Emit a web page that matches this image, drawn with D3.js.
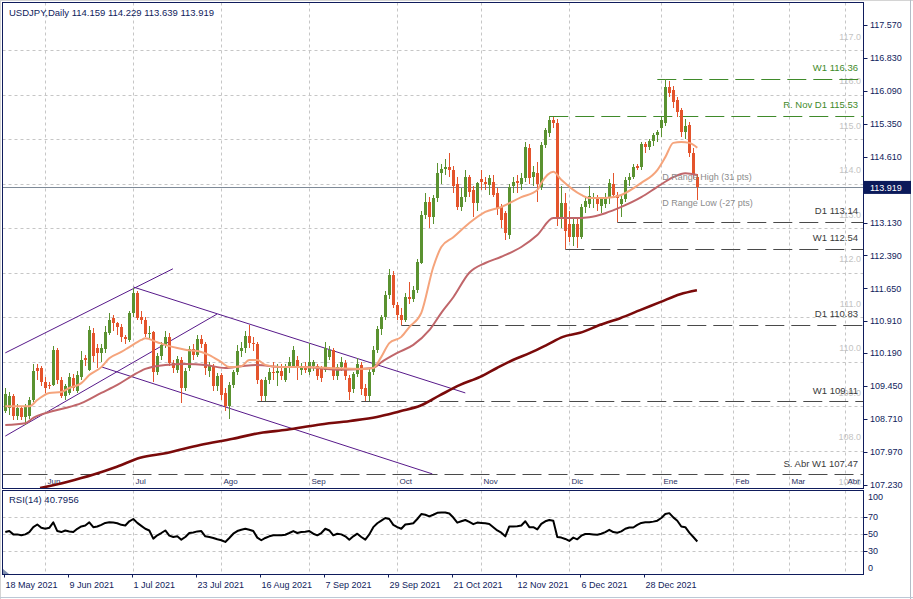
<!DOCTYPE html>
<html><head><meta charset="utf-8">
<script src="https://cdn.jsdelivr.net/npm/d3@7"></script>
<style>html,body{margin:0;padding:0;background:#fff;}svg{display:block;}</style>
</head><body>
<svg id="c" width="913" height="599"></svg>
<script>
const titleText = "USDJPY,Daily  114.159 114.229 113.639 113.919";
const rsiTitle = "RSI(14) 40.7956";
const lastPrice = 113.919;

const opens = [108.90,108.95,109.22,108.78,108.95,108.75,108.78,109.15,109.85,109.85,109.55,109.48,109.48,110.27,109.58,109.22,109.30,109.63,109.35,109.65,110.08,109.82,110.65,110.30,110.19,110.28,110.64,110.98,110.87,110.79,110.56,110.50,111.09,111.54,111.00,110.94,110.62,110.66,109.78,110.12,110.38,110.56,109.97,109.82,110.05,109.40,109.85,110.28,110.15,110.52,110.40,109.80,109.90,109.45,109.70,109.30,109.00,109.48,109.76,110.25,110.30,110.58,110.42,110.40,109.58,109.24,109.60,109.78,109.75,109.80,109.60,109.89,109.90,110.05,109.82,109.90,109.78,109.90,109.90,109.85,109.82,110.11,110.27,109.67,109.89,109.97,109.63,109.38,109.72,109.93,109.40,109.22,109.78,110.27,110.73,111.00,111.49,111.95,111.28,111.05,110.95,111.45,111.42,111.62,112.22,113.30,113.60,113.25,113.68,114.25,114.33,114.38,114.30,113.99,113.47,113.71,114.16,113.86,113.56,114.10,114.05,113.97,114.05,113.80,113.49,113.34,112.85,113.94,114.07,114.00,114.13,114.80,114.16,114.25,113.93,114.87,115.14,115.44,115.37,113.25,113.56,113.10,112.80,113.10,112.80,113.48,113.55,113.65,113.70,113.50,113.55,113.70,114.00,113.75,113.55,113.65,114.08,114.15,114.40,114.38,114.90,114.82,114.97,115.10,115.25,115.37,116.18,116.10,115.88,115.66,115.17,115.32,114.69,114.159];
const highs = [109.40,109.32,109.28,109.05,109.00,109.05,109.20,109.95,109.95,109.90,109.65,109.55,110.35,110.32,109.65,109.50,109.75,109.72,109.80,110.25,110.15,110.80,110.75,110.40,110.40,110.80,111.10,111.05,110.90,110.85,110.60,111.15,111.66,111.60,111.15,111.00,110.80,110.70,110.20,110.45,110.70,110.65,110.05,110.12,110.10,109.85,110.35,110.40,110.60,110.60,110.45,110.00,109.95,109.75,109.75,109.40,109.55,109.82,110.37,110.45,110.70,110.83,110.55,110.45,109.62,109.65,109.85,110.00,109.95,109.95,109.95,110.10,110.35,110.12,109.98,110.00,110.42,110.05,109.95,109.90,110.45,110.35,110.30,109.95,110.10,110.05,109.70,109.78,110.08,110.00,109.50,109.85,110.35,110.80,111.05,111.60,112.08,112.05,111.35,111.20,111.55,111.80,111.70,112.30,113.40,113.80,113.70,113.75,114.47,114.45,114.55,114.70,114.40,114.15,113.90,114.30,114.20,113.95,114.05,114.30,114.15,114.20,114.20,113.90,113.55,113.40,114.00,114.15,114.20,114.25,114.95,114.90,114.40,114.50,114.95,115.25,115.53,115.50,115.45,113.95,113.80,113.40,113.20,113.20,113.55,113.70,113.95,113.80,113.75,113.70,113.80,114.10,114.25,113.82,113.75,114.15,114.25,114.45,114.45,114.95,114.95,115.00,115.15,115.20,115.50,116.36,116.30,116.20,115.95,115.70,115.45,115.40,114.80,114.229];
const lows = [108.85,108.80,108.70,108.70,108.68,108.58,108.72,109.10,109.60,109.45,109.30,109.38,109.45,109.50,109.18,109.15,109.25,109.35,109.30,109.60,109.90,109.80,110.00,109.85,110.00,110.20,110.60,110.70,110.60,110.45,110.40,110.45,111.00,110.95,110.85,110.55,110.50,109.55,109.70,110.05,110.30,109.90,109.75,109.75,109.07,109.35,109.80,110.05,110.10,110.30,109.70,109.65,109.35,109.35,109.15,108.90,108.72,109.40,109.70,110.10,110.20,110.30,110.25,109.50,109.11,109.12,109.50,109.60,109.45,109.60,109.55,109.75,109.85,109.60,109.70,109.75,109.70,109.80,109.60,109.55,109.78,110.05,109.60,109.60,109.80,109.60,109.14,109.30,109.65,109.25,109.11,109.12,109.70,110.20,110.60,110.95,111.40,111.20,110.95,110.83,110.90,111.30,111.35,111.55,112.20,113.20,113.00,113.10,113.60,114.00,114.20,114.15,113.80,113.42,113.40,113.60,113.70,113.26,113.40,113.85,113.85,113.75,113.70,113.30,113.00,112.73,112.75,113.80,113.80,113.85,114.05,114.00,113.95,113.60,113.85,114.80,115.05,115.25,113.05,113.00,112.54,112.70,112.60,112.55,112.75,113.35,113.45,113.45,113.40,113.35,113.45,113.55,113.70,113.14,113.25,113.60,113.95,114.10,114.30,114.30,114.70,114.75,114.85,114.95,115.05,115.30,115.95,115.70,115.50,115.05,115.00,114.60,114.10,113.639];
const closes = [109.28,109.22,108.78,108.95,108.75,108.98,109.15,109.80,109.80,109.55,109.42,109.45,110.27,109.58,109.22,109.45,109.66,109.40,109.70,110.05,110.04,110.71,110.12,110.20,110.30,110.66,110.95,110.87,110.79,110.56,110.52,111.09,111.54,110.98,110.95,110.62,110.65,109.78,110.12,110.38,110.55,109.97,109.85,110.06,109.42,109.80,110.28,110.15,110.52,110.40,109.85,109.92,109.45,109.68,109.25,109.00,109.48,109.76,110.25,110.30,110.58,110.42,110.40,109.58,109.24,109.60,109.78,109.75,109.80,109.68,109.89,110.00,110.27,109.88,109.90,109.82,110.00,110.00,109.67,109.63,110.30,110.27,109.67,109.89,110.00,109.67,109.33,109.72,109.95,109.38,109.22,109.78,110.27,110.73,111.00,111.49,111.95,111.28,111.05,110.95,111.45,111.42,111.62,112.25,113.30,113.60,113.25,113.68,114.25,114.33,114.38,114.30,113.95,113.47,113.71,114.16,113.82,113.56,114.01,114.05,113.99,114.12,113.75,113.45,113.19,112.89,113.93,114.05,114.02,114.13,114.83,114.13,114.27,114.00,114.87,115.21,115.44,115.37,113.25,113.56,112.95,112.80,113.10,112.80,113.48,113.62,113.72,113.70,113.55,113.65,113.70,114.02,113.75,113.68,113.65,114.08,114.15,114.38,114.35,114.90,114.82,114.96,115.10,115.17,115.43,116.18,116.05,115.84,115.61,115.17,115.30,114.69,114.20,113.919];

const rsiValues = [51.9,53.1,49.2,49.2,48.1,49.2,51.9,57.7,60.8,56.9,55.8,56.9,63.4,53.1,51.9,53.8,52.7,51.9,55.8,58.5,59.6,63.4,57.7,58.5,60.4,62.7,63.4,63.1,62.3,60.4,59.6,64.6,67.3,62.7,59.2,55.8,53.8,44.2,48.1,50.8,53.8,47.7,46.1,46.9,43.0,46.1,50.8,51.5,52.7,53.1,46.9,46.1,45.0,43.4,42.3,40.3,45.0,50.0,53.1,54.6,55.8,54.6,53.1,45.4,42.3,45.0,46.9,48.1,48.1,48.1,48.8,50.8,53.1,50.8,51.9,52.3,53.1,50.0,48.1,50.8,55.8,53.8,48.1,50.0,49.2,46.9,43.0,46.9,50.0,46.1,43.0,49.2,57.7,62.3,65.3,68.5,67.3,60.4,57.7,55.8,60.8,61.5,62.3,67.3,73.1,72.3,70.4,72.3,74.6,75.0,75.0,73.8,69.0,63.0,64.6,66.1,63.8,61.2,63.1,62.7,62.3,61.5,57.7,53.8,51.2,46.9,58.5,58.5,58.8,59.6,64.6,57.7,57.7,55.0,61.5,64.6,66.1,65.3,46.1,45.4,43.8,41.5,45.4,43.4,47.7,49.6,49.6,49.2,48.8,50.0,51.9,54.6,51.9,51.2,52.7,55.8,57.3,57.3,60.4,62.7,63.4,63.4,64.2,65.3,68.5,73.1,74.2,69.2,65.3,58.5,57.7,51.2,46.1,40.8];

// moving averages: [bar index, price]
const fastMA = [[0,109.00],[6,109.00],[8,109.14],[11,109.30],[14,109.32],[16,109.41],[19,109.52],[21,109.70],[24,109.88],[26,110.08],[29,110.22],[31,110.33],[34,110.49],[35,110.53],[38,110.44],[40,110.38],[43,110.31],[45,110.27],[49,110.22],[51,110.15],[54,109.99],[56,109.88],[59,109.90],[61,110.04],[63,110.04],[65,109.93],[69,109.88],[74,109.88],[81,109.86],[89,109.84],[92,109.86],[94,110.11],[96,110.42],[99,110.56],[101,110.78],[104,111.10],[107,112.13],[109,112.58],[112,112.80],[116,113.12],[120,113.37],[124,113.48],[129,113.70],[133,113.86],[134,114.02],[137,114.27],[139,114.09],[144,113.75],[146,113.68],[150,113.68],[154,113.75],[159,114.02],[163,114.31],[165,114.60],[167,114.92],[169,114.94],[171,114.92],[173,114.81]];
const slowMA = [[0,108.58],[5,108.62],[7,108.74],[11,108.87],[15,108.96],[19,109.07],[24,109.30],[28,109.48],[32,109.70],[35,109.84],[40,109.93],[45,109.95],[50,109.93],[55,109.86],[59,109.90],[63,109.93],[69,109.88],[74,109.88],[84,109.82],[92,109.86],[94,109.99],[98,110.20],[102,110.38],[106,110.71],[109,111.10],[112,111.45],[116,112.00],[120,112.22],[124,112.36],[129,112.58],[133,112.85],[137,113.23],[142,113.23],[146,113.25],[150,113.34],[154,113.48],[159,113.70],[163,113.93],[167,114.15],[170,114.24],[173,114.20]];
const longMA = [[8.7,107.16],[15.4,107.30],[21.9,107.46],[27.9,107.64],[33.7,107.84],[40.4,107.95],[48.7,108.13],[56.9,108.27],[63.7,108.40],[70.4,108.47],[77.9,108.58],[86.2,108.67],[92.9,108.76],[98.7,108.89],[103.7,109.01],[108.7,109.25],[113.7,109.48],[118.7,109.66],[122.9,109.86],[126.9,110.04],[131.2,110.20],[135.4,110.38],[139.4,110.56],[143.7,110.65],[148.7,110.83],[153.7,110.98],[158.7,111.16],[163.7,111.34],[168.7,111.52],[172.9,111.61]];

const dateLabels = ["18 May 2021","9 Jun 2021","1 Jul 2021","23 Jul 2021","16 Aug 2021","7 Sep 2021","29 Sep 2021","21 Oct 2021","12 Nov 2021","6 Dec 2021","28 Dec 2021"];
const dateIdx = [0,16,32,48,64,80,96,112,128,144,160];
const monthLabels = ["Jun","Jul","Ago","Sep","Oct","Nov","Dic","Ene","Feb","Mar","Abr"];
const monthIdx = [10,32,54,76,98,119,141,164,182,196,210];
const priceTicks = [117.57,116.83,116.09,115.35,114.61,113.13,112.39,111.65,110.91,110.19,109.45,108.71,107.97,107.23];
const roundLevels = [117,116,115,114,113,112,111,110,109,108,107];
const rsiTicks = [100,70,50,30,0];
const rsiGrid = [70,50,30];

const levelNames = ["W1 116.36","R. Nov D1 115.53","D1 113.14","W1 112.54","D1 110.83","W1 109.11","S. Abr W1 107.47"];
const levelPrices = [116.36,115.53,113.14,112.54,110.83,109.11,107.47];
const levelStart = [163,136,153,140,99,63,-1];
const levelKind = ["res","res","sup","sup","sup","sup","sup"];

const rangeNames = ["D Range High (31 pts)","D Range Low (-27 pts)"];
const rangePrices = [114.16,113.57];
const rangeIdx = 164;

// trend lines: [bar1, price1, bar2, price2]
const trendLines = [[0,110.20,41.9,112.09],[0,108.33,52.9,111.07],[32,111.68,115,109.30],[24.2,109.88,106.75,107.48]];

// ---------- drawing ----------
const W = 913, H = 599;
const L = 2.5, R = 863.5, T = 2.5, MB = 488.5, RT = 490.5, RB = 574.5;
const FONT = "'Liberation Sans', Arial, sans-serif";
const NAVY = "#0f1c5c";
const svg = d3.select("#c");

const x = d3.scaleLinear().domain([0, 1]).range([5.3, 9.3]);
const y = d3.scaleLinear().domain([107.23, 117.57]).range([485, 25]);
const yr = d3.scaleLinear().domain([0, 100]).range([576.2, 491.2]);

svg.append("rect").attr("width", W).attr("height", H).attr("fill", "#fff");
// outer window frame
svg.append("line").attr("x1",0).attr("x2",W).attr("y1",0.5).attr("y2",0.5).attr("stroke","#d4d4d4");
svg.append("line").attr("x1",0.5).attr("x2",0.5).attr("y1",0).attr("y2",H).attr("stroke","#d4d4d4");
svg.append("line").attr("x1",910.5).attr("x2",910.5).attr("y1",0).attr("y2",H).attr("stroke","#b4bcc6");
svg.append("line").attr("x1",0).attr("x2",W).attr("y1",597.5).attr("y2",597.5).attr("stroke","#bcc8d6");

const defs = svg.append("defs");
defs.append("clipPath").attr("id","cm").append("rect").attr("x",L).attr("y",T).attr("width",R-L).attr("height",MB-T);
defs.append("clipPath").attr("id","cr").append("rect").attr("x",L).attr("y",RT).attr("width",R-L).attr("height",RB-RT);

const gm = svg.append("g").attr("clip-path","url(#cm)");
const grs = svg.append("g").attr("clip-path","url(#cr)");

const px = v => Math.round(v) + 0.5;

// grids
monthIdx.forEach(i => {
  const xx = px(x(i));
  gm.append("line").attr("x1",xx).attr("x2",xx).attr("y1",T).attr("y2",MB).attr("stroke","#c6c6c6").attr("stroke-dasharray","3,3");
  grs.append("line").attr("x1",xx).attr("x2",xx).attr("y1",RT).attr("y2",RB).attr("stroke","#c6c6c6").attr("stroke-dasharray","3,3");
});
roundLevels.forEach(p => {
  const yy = px(y(p));
  gm.append("line").attr("x1",L).attr("x2",R).attr("y1",yy).attr("y2",yy).attr("stroke","#c6c6c6").attr("stroke-dasharray","3,3");
  gm.append("text").attr("x",861).attr("y",y(p)-13.5).attr("dy","0.35em").attr("text-anchor","end")
    .attr("font-family",FONT).attr("font-size",9).attr("fill","#c4c4c4").text(p.toFixed(1));
});
rsiGrid.forEach(v => {
  const yy = px(yr(v));
  grs.append("line").attr("x1",L).attr("x2",R).attr("y1",yy).attr("y2",yy).attr("stroke","#c6c6c6").attr("stroke-dasharray","3,3");
});

// month labels inside main panel
monthLabels.forEach((m,k) => {
  gm.append("text").attr("x",px(x(monthIdx[k]))+2).attr("y",481).attr("dy","0.35em")
    .attr("font-family",FONT).attr("font-size",8).attr("fill","#2a3060").text(m);
});

// current price line
gm.append("line").attr("x1",L).attr("x2",R).attr("y1",px(y(lastPrice))).attr("y2",px(y(lastPrice)))
  .attr("stroke","#7e8a98").attr("stroke-width",1);

// level lines
levelPrices.forEach((p,k) => {
  const col = levelKind[k] === "res" ? "#3f8a2a" : "#4a4a4a";
  const yy = px(y(p));
  gm.append("line").attr("x1",levelStart[k] < 0 ? L : x(levelStart[k])).attr("x2",R).attr("y1",yy).attr("y2",yy)
    .attr("stroke",col).attr("stroke-dasharray","19,7");
  gm.append("text").attr("x",858).attr("y",y(p)-11).attr("dy","0.35em").attr("text-anchor","end")
    .attr("font-family",FONT).attr("font-size",9.5).attr("fill",levelKind[k] === "res" ? "#3f8a2a" : "#3a3a3a").text(levelNames[k]);
});

// trend lines
trendLines.forEach(t => {
  gm.append("line").attr("x1",x(t[0])).attr("y1",y(t[1])).attr("x2",x(t[2])).attr("y2",y(t[3]))
    .attr("stroke","#57198a").attr("stroke-width",1);
});

// candles
const bars = opens.map((o,i) => ({i, o, h: highs[i], l: lows[i], c: closes[i]}));
const cg = gm.append("g").attr("shape-rendering","crispEdges");
bars.forEach(b => {
  const up = b.c >= b.o;
  const col = up ? "#5a9230" : "#e4542c";
  const cx = Math.floor(x(b.i));
  cg.append("line").attr("x1",cx+0.5).attr("x2",cx+0.5).attr("y1",y(b.h)).attr("y2",y(b.l)).attr("stroke",col);
  const top = y(Math.max(b.o,b.c)), bot = y(Math.min(b.o,b.c));
  cg.append("rect").attr("x",cx-1).attr("width",3).attr("y",top).attr("height",Math.max(1,bot-top)).attr("fill",col);
});

// moving averages
const lineGen = d3.line().x(d => x(d[0])).y(d => y(d[1])).curve(d3.curveMonotoneX);
gm.append("path").datum(longMA).attr("d",lineGen).attr("fill","none").attr("stroke","#7a0a0a").attr("stroke-width",2.6);
gm.append("path").datum(slowMA).attr("d",lineGen).attr("fill","none").attr("stroke","#c0666a").attr("stroke-width",2);
gm.append("path").datum(fastMA).attr("d",lineGen).attr("fill","none").attr("stroke","#f5a47c").attr("stroke-width",2);

// range labels
rangeNames.forEach((t,k) => {
  gm.append("text").attr("x",x(rangeIdx)+1).attr("y",y(rangePrices[k])).attr("dy","0.35em")
    .attr("font-family",FONT).attr("font-size",9).attr("fill","#8c8c8c").text(t);
});

// RSI line
const rsiLine = d3.line().x((d,i) => x(i)).y(d => yr(d));
grs.append("path").datum(rsiValues).attr("d",rsiLine).attr("fill","none").attr("stroke","#000").attr("stroke-width",2).attr("stroke-linejoin","round");

// frames
svg.append("rect").attr("x",L).attr("y",T).attr("width",R-L).attr("height",MB-T).attr("fill","none").attr("stroke",NAVY);
svg.append("rect").attr("x",L).attr("y",RT).attr("width",R-L).attr("height",RB-RT).attr("fill","none").attr("stroke",NAVY);

// titles
svg.append("text").attr("x",9).attr("y",13).attr("dy","0.35em").attr("font-family",FONT).attr("font-size",9.5).attr("fill",NAVY).text(titleText);
svg.append("text").attr("x",9).attr("y",500).attr("dy","0.35em").attr("font-family",FONT).attr("font-size",9.5).attr("fill",NAVY).text(rsiTitle);

// price axis
priceTicks.forEach(p => {
  const yy = px(y(p));
  svg.append("line").attr("x1",R).attr("x2",R+4).attr("y1",yy).attr("y2",yy).attr("stroke",NAVY);
  svg.append("text").attr("x",870).attr("y",y(p)).attr("dy","0.35em").attr("font-family",FONT).attr("font-size",9).attr("fill",NAVY).text(p.toFixed(3));
});
// current price box
svg.append("rect").attr("x",864).attr("y",y(lastPrice)-6.5).attr("width",47).attr("height",13).attr("fill","#0b1a5a");
svg.append("text").attr("x",870).attr("y",y(lastPrice)).attr("dy","0.35em").attr("font-family",FONT).attr("font-size",9).attr("fill","#fff").text(lastPrice.toFixed(3));

// RSI axis
rsiTicks.forEach(v => {
  const yy = Math.min(568, Math.max(497, yr(v)));
  if (v > 0 && v < 100) svg.append("line").attr("x1",R).attr("x2",R+4).attr("y1",px(yr(v))).attr("y2",px(yr(v))).attr("stroke",NAVY);
  svg.append("text").attr("x",868).attr("y",yy).attr("dy","0.35em").attr("font-family",FONT).attr("font-size",9).attr("fill",NAVY).text(v);
});

// date axis
dateIdx.forEach((i,k) => {
  const xx = px(x(i)) - 1;
  svg.append("line").attr("x1",xx).attr("x2",xx).attr("y1",RB).attr("y2",RB+3).attr("stroke",NAVY);
  svg.append("text").attr("x",xx+1).attr("y",585).attr("dy","0.35em").attr("font-family",FONT).attr("font-size",9).attr("fill",NAVY).text(dateLabels[k]);
});
svg.append("path").attr("d","M3,569 L3,574 L9,574 Z").attr("fill","#7f90b0");
</script>
</body></html>
